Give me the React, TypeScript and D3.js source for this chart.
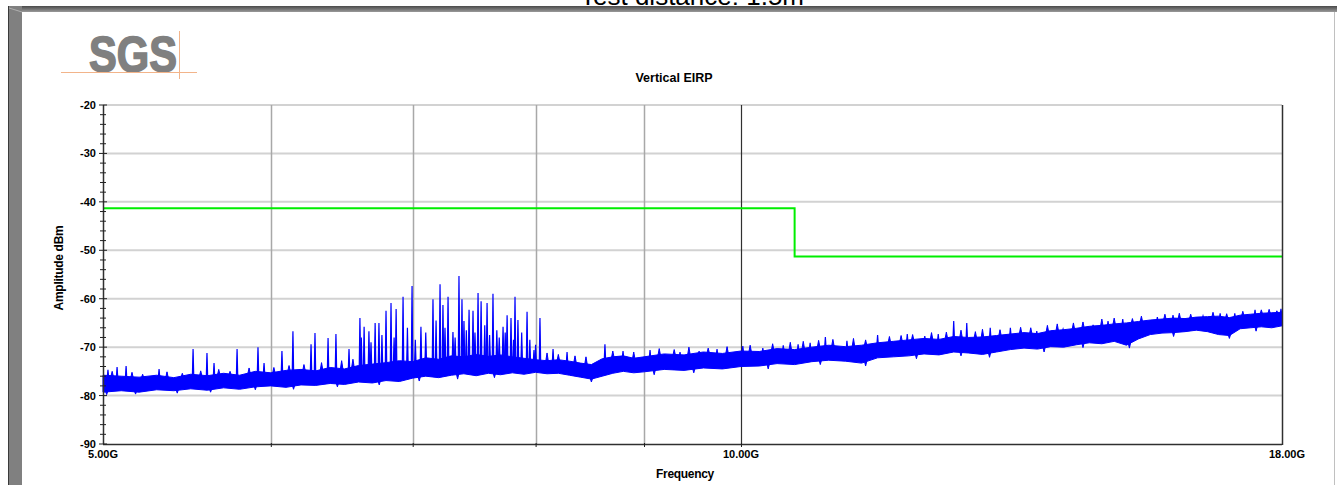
import React from 'react';
import * as d3 from 'd3';

// y axis ticks (dBm)
const yTicks = [-20, -30, -40, -50, -60, -70, -80, -90];
// vertical grid lines (GHz)
const xGrid = [6, 7, 8, 9, 10];
const xLabels = [
  { f: 5, label: '5.00G' },
  { f: 10, label: '10.00G' },
  { f: 18, label: '18.00G' },
];

// limit line
const limitFreqs = [5, 10.6, 10.6, 18];
const limitVals = [-41.3, -41.3, -51.3, -51.3];

// noise floor envelope of the trace: freq (GHz), low / high (dBm)
const envFreqs = [5.0, 5.1, 5.2, 5.3, 5.4, 5.5, 5.6, 5.7, 5.8, 5.9, 6.0, 6.1, 6.2, 6.3, 6.4, 6.5, 6.6, 6.7, 6.8, 6.9,
  7.0, 7.1, 7.2, 7.3, 7.4, 7.5, 7.6, 7.7, 7.8, 7.9, 8.0, 8.1, 8.2, 8.3, 8.4, 8.5, 8.6, 8.7, 8.8, 8.9,
  9.0, 9.2, 9.4, 9.6, 9.8, 10.0, 10.2, 10.4, 10.6, 10.8, 11.0, 11.2, 11.4, 11.6, 11.8, 12.0, 12.2, 12.4,
  12.6, 12.8, 13.0, 13.2, 13.4, 13.6, 13.8, 14.0, 14.2, 14.4, 14.6, 14.8, 15.0, 15.2, 15.4, 15.6, 15.8,
  16.0, 16.2, 16.4, 16.6, 16.8, 17.0, 17.2, 17.4, 17.6, 17.8, 18.0];
const envLow = [-79.3, -79.0, -79.3, -78.8, -79.0, -78.6, -78.9, -78.4, -78.7, -78.2, -78.0, -78.3, -77.8, -77.9, -77.5, -77.7, -77.2, -77.4, -76.9, -77.1,
  -76.4, -76.0, -76.3, -75.8, -75.5, -75.9, -75.4, -75.7, -75.3, -75.6, -75.2, -75.5, -75.4, -75.8, -76.2, -76.6, -76.0, -75.4, -75.0, -75.3,
  -75.1, -74.6, -74.8, -74.3, -74.5, -74.0, -73.9, -73.4, -73.6, -73.0, -72.7, -72.9, -73.3, -72.2, -72.0, -71.8, -71.4, -71.6,
  -71.0, -71.2, -71.5, -71.0, -70.5, -70.2, -70.4, -69.9, -70.0, -69.5, -69.1, -69.3, -68.8, -69.6, -68.3, -67.4, -67.1,
  -67.0, -66.8, -66.5, -66.8, -67.4, -67.6, -66.2, -66.0, -65.8, -66.0, -65.6];
const envHigh = [-75.8, -76.0, -76.2, -75.8, -76.3, -75.6, -75.9, -75.4, -75.8, -75.0, -75.3, -74.8, -74.6, -74.9, -74.2, -74.5, -73.8, -73.5, -73.2, -72.8,
  -73.0, -72.2, -72.5, -71.8, -72.0, -71.5, -71.9, -71.6, -72.0, -72.3, -72.6, -72.8, -72.6, -72.9, -73.3, -73.6, -72.4, -72.0, -71.8, -72.3,
  -72.0, -71.4, -71.6, -71.0, -71.3, -70.8, -70.9, -70.3, -70.5, -70.0, -69.6, -69.9, -69.6, -69.1, -68.8, -68.5, -68.2, -68.4,
  -67.8, -68.0, -67.9, -67.6, -67.3, -67.0, -67.2, -66.6, -66.4, -66.1, -65.7, -65.5, -65.2, -65.0, -64.7, -64.4, -64.2,
  -64.0, -64.1, -63.8, -63.7, -63.6, -63.9, -63.4, -63.2, -63.0, -62.9, -62.8];

// spurious peaks: freq (GHz), peak (dBm)
const spikeFreqs = [5.027, 5.077, 5.127, 5.314, 5.514, 5.598, 5.641, 5.784, 5.917, 5.956, 6.073, 6.146, 6.268, 6.295, 6.385, 6.44, 6.532,
  6.61, 6.62, 6.64, 6.675, 6.69, 6.72, 6.748, 6.77, 6.8, 6.837, 6.86, 6.875, 6.927, 6.96, 6.995, 7.02, 7.063, 7.1, 7.156, 7.18, 7.211,
  7.234, 7.25, 7.274, 7.313, 7.33, 7.361, 7.385, 7.401, 7.42, 7.442, 7.474, 7.49, 7.515, 7.54, 7.57, 7.589, 7.61, 7.638, 7.67, 7.69,
  7.722, 7.74, 7.756, 7.789, 7.81, 7.823, 7.848, 7.88, 7.926, 7.95, 7.986, 8.0, 8.038, 8.153, 8.278, 8.626, 8.797, 9.059, 9.359,
  9.555, 9.743, 10.02, 10.24, 10.47, 10.64, 10.78, 10.96, 11.22, 11.6, 11.98, 12.21, 12.39, 12.6, 12.78, 13.11, 13.4, 13.79,
  14.19, 14.66, 14.9, 15.14, 15.56, 15.72, 15.99, 16.52, 16.83, 17.1, 17.48, 17.98];
const spikeVals = [-74.7, -74.1, -73.9, -74.5, -70.4, -71.2, -73.3, -70.4, -70.0, -73.3, -70.8, -66.7, -69.4, -67.1, -68.1, -67.3, -70.4,
  -64.0, -68.0, -65.8, -66.7, -69.0, -65.0, -65.0, -67.5, -62.5, -60.9, -68.0, -62.1, -59.6, -66.0, -57.4, -68.5, -65.8, -67.0, -60.1, -64.5, -57.0,
  -61.3, -66.0, -59.6, -66.9, -68.0, -55.3, -60.1, -64.6, -66.5, -62.3, -62.5, -67.0, -58.8, -60.5, -65.5, -60.9, -67.5, -59.0, -66.5, -68.0,
  -65.8, -67.0, -63.4, -64.0, -68.5, -59.6, -64.4, -67.0, -62.7, -68.5, -70.6, -69.5, -64.0, -70.4, -71.0, -69.4, -70.8, -70.6, -71.0,
  -70.8, -70.4, -69.8, -70.2, -69.6, -69.4, -69.1, -67.9, -68.7, -67.5, -67.3, -67.7, -67.3, -64.6, -65.0, -66.0, -66.0, -66.7,
  -66.3, -65.4, -64.6, -64.2, -65.0, -63.8, -63.4, -63.6, -63.0, -63.0, -62.3, -62.1];

// small ripples on top of the noise band
const rippleFreqs = [5.05, 5.16, 5.22, 5.36, 5.45, 5.56, 5.67, 5.74, 5.86, 6.02, 6.12, 6.22, 6.34, 6.48, 6.56, 8.1, 8.2, 8.35, 8.45,
  8.7, 8.9, 9.15, 9.3, 9.45, 9.65, 9.85, 10.1, 10.35, 10.55, 10.7, 10.88, 11.05, 11.3, 11.45, 11.75, 11.9, 12.05, 12.3, 12.5, 12.7,
  12.9, 13.0, 13.25, 13.55, 13.7, 13.95, 14.1, 14.35, 14.5, 14.8, 15.0, 15.3, 15.45, 15.85, 16.1, 16.3, 16.7, 16.95, 17.25, 17.6, 17.75, 17.9];
const rippleVals = [-75.0, -75.2, -75.6, -75.1, -75.4, -74.9, -74.6, -75.0, -74.3, -74.2, -73.8, -73.6, -73.2, -72.8, -72.5, -71.2, -71.5, -71.8, -72.0,
  -70.8, -71.0, -70.3, -70.5, -70.0, -70.2, -69.9, -69.6, -69.3, -69.0, -68.8, -68.6, -68.4, -68.2, -68.5, -67.8, -67.6, -67.4, -67.0, -66.9, -66.5,
  -66.8, -66.3, -66.4, -65.9, -66.0, -65.5, -65.2, -65.0, -64.8, -64.2, -64.0, -64.1, -63.6, -63.2, -63.0, -63.2, -62.8, -63.1, -62.6, -62.3, -62.2, -62.5];

// dips below the noise band
const dipFreqs = [5.02, 5.18, 5.42, 5.62, 5.9, 6.15, 6.45, 6.75, 7.05, 7.35, 7.65, 8.5, 9.1, 9.5, 10.3, 10.9, 11.45, 12.1, 12.7,
  13.1, 13.9, 14.5, 15.25, 16.0, 17.0, 17.5];
const dipVals = [-79.8, -79.7, -79.5, -79.3, -78.8, -78.7, -78.2, -77.8, -77.0, -76.6, -76.3, -77.2, -75.7, -75.3, -74.5, -73.6, -73.9, -72.4, -71.8,
  -72.1, -71.0, -70.1, -70.2, -67.8, -68.2, -66.7];

const FONT = '"Liberation Sans", Arial, sans-serif';
const W = 1337;
const H = 485;
const margin = { left: 103, right: 1282, top: 105, bottom: 444 };
const BLUE = '#0000ff';

export default function App() {
  const x = d3.scaleLog().domain([5, 18]).range([margin.left, margin.right]);
  const y = d3.scaleLinear().domain([-90, -20]).range([margin.bottom, margin.top]);

  const envData = envFreqs.map((f, i) => ({ f, lo: envLow[i], hi: envHigh[i] }));
  const area = d3.area<{ f: number; lo: number; hi: number }>()
    .x(d => x(d.f))
    .y0(d => y(d.lo))
    .y1(d => y(d.hi));

  // band edges under / over each peak
  const topAt = d3.scaleLinear().domain(envFreqs).range(envHigh);
  const bottomAt = d3.scaleLinear().domain(envFreqs).range(envLow);

  const limitLine = d3.line<number>()
    .x((_, i) => x(limitFreqs[i]))
    .y(d => y(d));

  const minorTicks = d3.range(-90, -19, 2);

  const peak = (f: number, v: number, edge: number, hw: number) => {
    const px = x(f);
    const base = y(edge);
    return `M${px - hw},${base}L${px},${y(v)}L${px + hw},${base}Z`;
  };

  return (
    <svg width={W} height={H} style={{ position: 'absolute', left: 0, top: 0, background: '#fff' }}>
      <defs>
        <linearGradient id="topbar" x1="0" y1="0" x2="0" y2="1">
          <stop offset="0" stopColor="#4a4a4a" />
          <stop offset="1" stopColor="#9a9a9a" />
        </linearGradient>
      </defs>

      {/* page heading, mostly hidden above the frame */}
      <text x={692} y={5} textAnchor="middle" fontFamily={FONT} fontSize={26} fill="#000">
        Test distance: 1.5m
      </text>

      {/* window frame */}
      <rect x={8} y={6} width={W - 8} height={6} fill="url(#topbar)" />
      <rect x={8} y={6} width={14} height={H - 6} fill="#808080" />
      <line x1={8.5} y1={6} x2={8.5} y2={H} stroke="#3a3a3a" />
      <line x1={9} y1={8} x2={22} y2={12} stroke="#b0b0b0" />
      <line x1={1334.5} y1={12} x2={1334.5} y2={H} stroke="#c0c0c0" />

      {/* SGS logo */}
      <text x={89} y={72} fontFamily={FONT} fontWeight="bold" fontSize={50} fill="#808080" stroke="#808080" strokeWidth={1.6}
        textLength={88} lengthAdjust="spacingAndGlyphs">SGS</text>
      <line x1={61} y1={72.5} x2={197} y2={72.5} stroke="#f2b48a" />
      <line x1={179.5} y1={31} x2={179.5} y2={79} stroke="#f2b48a" />

      {/* title */}
      <text x={674} y={82} textAnchor="middle" fontFamily={FONT} fontWeight="bold" fontSize={12.5} fill="#000">
        Vertical EIRP
      </text>

      {/* horizontal grid */}
      {yTicks.filter(t => t !== -90).map(t => (
        <line key={t} x1={margin.left} x2={margin.right} y1={y(t)} y2={y(t)} stroke="#d2d2d2" strokeWidth={2} />
      ))}
      {/* vertical grid */}
      {xGrid.map(f => (
        <line key={f} x1={Math.round(x(f)) + 0.5} x2={Math.round(x(f)) + 0.5} y1={margin.top} y2={margin.bottom}
          stroke={f === 10 ? '#303030' : '#a8a8a8'} strokeWidth={f === 10 ? 1.2 : 1.5} />
      ))}

      {/* limit line */}
      <path d={limitLine(limitVals) || ''} fill="none" stroke="#00ee00" strokeWidth={2} />

      {/* trace */}
      <path d={area(envData) || ''} fill={BLUE} stroke={BLUE} strokeWidth={1} strokeLinejoin="bevel" />
      {rippleFreqs.map((f, i) => (
        <path key={'r' + i} d={peak(f, rippleVals[i], topAt(f) - 0.4, 1.5)} fill={BLUE} stroke={BLUE} strokeWidth={1} />
      ))}
      {dipFreqs.map((f, i) => (
        <path key={'d' + i} d={peak(f, dipVals[i], bottomAt(f) + 0.4, 1.5)} fill={BLUE} stroke={BLUE} strokeWidth={1} />
      ))}
      {spikeFreqs.map((f, i) => (
        <path key={'s' + i} d={peak(f, spikeVals[i], topAt(f) - 0.4, 0.7)} fill={BLUE} stroke={BLUE} strokeWidth={1.2} />
      ))}

      {/* axes */}
      <line x1={margin.left} x2={margin.right} y1={margin.bottom + 0.5} y2={margin.bottom + 0.5} stroke="#303030" strokeWidth={1.5} />
      <line x1={margin.left + 0.5} x2={margin.left + 0.5} y1={margin.top} y2={margin.bottom} stroke="#303030" strokeWidth={1.5} />
      <line x1={margin.right + 0.5} x2={margin.right + 0.5} y1={margin.top} y2={margin.bottom + 1} stroke="#303030" strokeWidth={1.5} />
      {minorTicks.map(t => (
        <line key={t} x1={t % 10 === 0 ? 99 : 100} x2={t % 10 === 0 ? 107 : 106} y1={y(t)} y2={y(t)} stroke="#202020" strokeWidth={1} />
      ))}
      {xGrid.map(f => (
        <line key={f} x1={x(f) + 0.5} x2={x(f) + 0.5} y1={margin.bottom - 1} y2={margin.bottom + 3} stroke="#202020" />
      ))}

      {yTicks.map(t => (
        <text key={t} x={96} y={y(t) + 4} textAnchor="end" fontFamily={FONT} fontWeight="bold" fontSize={11} fill="#000">
          {t}
        </text>
      ))}
      {xLabels.map(d => (
        <text key={d.label} x={x(d.f) + (d.f === 18 ? 5 : 0)} y={458} textAnchor="middle" fontFamily={FONT} fontWeight="bold" fontSize={11} fill="#000">
          {d.label}
        </text>
      ))}

      <text x={685} y={478} textAnchor="middle" fontFamily={FONT} fontWeight="bold" fontSize={12} fill="#000" letterSpacing={-0.3}>
        Frequency
      </text>
      <text transform={`translate(63,268) rotate(-90)`} textAnchor="middle" fontFamily={FONT} fontWeight="bold" fontSize={12} fill="#000" letterSpacing={-0.3}>
        Amplitude dBm
      </text>
    </svg>
  );
}
